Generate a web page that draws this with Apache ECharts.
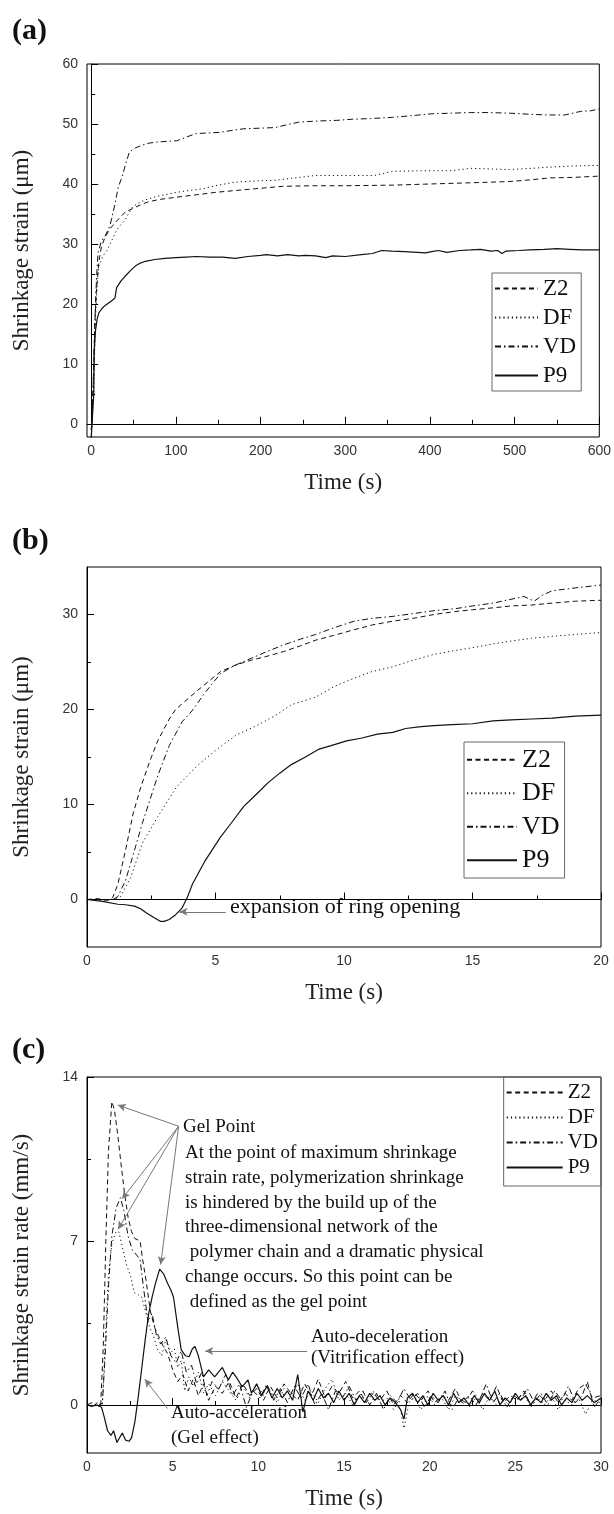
<!DOCTYPE html>
<html>
<head>
<meta charset="utf-8">
<script src="https://cdn.jsdelivr.net/npm/echarts@6/dist/echarts.min.js"></script>
<style>
  html, body { margin: 0; padding: 0; background: #fff; }
  #chart { width: 614px; height: 1514px; }
</style>
</head>
<body>
<div id="chart"></div>
<script>
var names = ['Z2', 'DF', 'VD', 'P9'];

// ---- panel (a): shrinkage strain, 0-600 s ----
var aTicksX = [0, 100, 200, 300, 400, 500, 600];
var aMinorX = [50, 150, 250, 350, 450, 550];
var aTicksY = [0, 10, 20, 30, 40, 50, 60];
var aMinorY = [5, 15, 25, 35, 45, 55];

var aZ2 = [[0,-1],[1,1],[2,5],[3,10],[4,16],[6,22],[9,27],[12,29.5],[16,31],[22,32.5],[30,33.8],[40,35.3],[49,35.9],[58,36.5],[67,37],[80,37.4],[101,37.8],[125,38.2],[147,38.6],[170,38.9],[194,39.2],[226,39.6],[260,39.7],[300,39.7],[356,39.8],[402,40.0],[450,40.2],[494,40.4],[520,40.7],[541,41.0],[570,41.1],[600,41.3]];
var aDF = [[0,-1],[1,1],[2,3],[3,5.4],[4,12],[5,17.5],[7,23],[9,26.3],[14,28],[19,29],[25,30.8],[30,32.3],[35,33.2],[40,34],[45,35.3],[49,36.2],[58,37],[67,37.5],[80,38],[101,38.6],[115,38.9],[132,39.2],[150,39.8],[170,40.3],[195,40.5],[217,40.6],[240,41.0],[264,41.4],[300,41.4],[334,41.4],[356,42.1],[390,42.2],[425,42.2],[448,42.6],[470,42.5],[494,42.4],[520,42.6],[541,42.8],[570,43.0],[600,43.1]];
var aVD = [[0,-2.2],[1,0],[2,5],[3,10],[4,15],[5,20],[6.5,25],[8,28.5],[12,30.5],[16,31.2],[22,33],[27,36],[32,39.5],[36,41],[40,43],[45,45.3],[52,46],[59,46.4],[68,46.8],[78,47],[90,47.1],[101,47.2],[112,47.8],[124,48.4],[138,48.5],[152,48.6],[165,48.9],[180,49.2],[200,49.3],[217,49.4],[232,49.9],[245,50.3],[268,50.5],[290,50.6],[309,50.8],[330,50.9],[356,51.1],[380,51.4],[402,51.7],[425,51.8],[448,51.9],[470,51.9],[494,51.8],[520,51.6],[541,51.5],[559,51.5],[578,52.1],[590,52.2],[600,52.5]];
var aP9 = [[0,-2.3],[2,-2.3],[3,5],[3.5,12],[5,15.5],[7,17.5],[9,18.5],[12,19.1],[16,19.7],[21,20.2],[25,20.6],[28,21],[30,22.7],[35,23.8],[40,24.6],[46,25.5],[52,26.3],[58,26.8],[64,27.1],[75,27.4],[87,27.6],[100,27.7],[112,27.8],[124,27.9],[140,27.8],[155,27.8],[170,27.6],[185,27.9],[200,28.1],[207,28.2],[220,28.0],[232,28.2],[245,28.0],[253,28.1],[265,28.0],[277,27.7],[285,28.0],[300,27.9],[319,28.2],[332,28.4],[343,28.9],[355,28.8],[370,28.7],[385,28.6],[395,28.5],[402,28.7],[410,28.9],[420,28.6],[435,28.9],[448,29.0],[460,29.1],[472,28.8],[480,28.9],[485,28.4],[490,28.8],[505,28.9],[518,29.0],[535,29.1],[550,29.2],[565,29.1],[580,29.0],[600,29.0]];

// ---- panel (b): shrinkage strain, 0-20 s ----
var bTicksX = [0, 5, 10, 15, 20];
var bMinorX = [2.5, 7.5, 12.5, 17.5];
var bTicksY = [0, 10, 20, 30];
var bMinorY = [5, 15, 25];

var bZ2 = [[0,0],[0.4,0.1],[0.8,-0.1],[1.0,0.2],[1.2,1.6],[1.5,5.2],[1.8,9.1],[2.1,11.9],[2.45,14.6],[2.75,16.7],[3.2,19],[3.45,20],[3.7,20.6],[4.3,22],[5.2,24],[5.8,24.7],[6.4,25.2],[7.0,25.6],[7.65,26.1],[8.3,26.7],[8.9,27.3],[9.6,27.8],[10.4,28.4],[11.1,28.9],[11.9,29.3],[12.7,29.6],[13.5,30.0],[14.3,30.3],[15,30.5],[15.8,30.7],[16.5,30.9],[17.3,31.0],[18.1,31.2],[19,31.4],[20,31.5]];
var bDF = [[0,0],[0.5,-0.1],[1.0,0],[1.3,0.3],[1.7,2.3],[2.15,5.9],[2.75,8.7],[3.5,11.9],[4.3,14.1],[5.05,15.8],[5.8,17.3],[6.6,18.3],[7.35,19.4],[7.95,20.5],[8.9,21.3],[9.6,22.4],[10.4,23.3],[11.1,24.0],[11.9,24.5],[12.7,25.2],[13.5,25.8],[14.3,26.2],[15,26.5],[15.8,26.9],[16.5,27.2],[17.3,27.5],[18.1,27.7],[19,27.9],[20,28.1]];
var bVD = [[0,0],[0.5,0],[1.0,0],[1.2,0.3],[1.5,2],[1.85,5.2],[2.15,8],[2.45,10.5],[2.75,13],[3.2,16.2],[3.7,18.7],[4.1,19.9],[4.6,21.8],[5.2,23.8],[5.8,24.7],[6.4,25.4],[7.0,26.1],[7.65,26.8],[8.3,27.4],[8.9,27.9],[9.6,28.6],[10.4,29.3],[11.1,29.6],[11.9,29.8],[12.7,30.1],[13.5,30.4],[14.3,30.6],[15,30.9],[15.8,31.2],[16.5,31.6],[17,31.9],[17.4,31.4],[17.7,32.0],[18.1,32.5],[19,32.8],[20,33.1]];
var bP9 = [[0,0],[0.6,-0.2],[1.2,-0.5],[1.5,-0.55],[1.85,-0.7],[2.1,-1.0],[2.3,-1.4],[2.6,-1.9],[2.85,-2.3],[3.0,-2.3],[3.2,-2.1],[3.45,-1.6],[3.7,-0.9],[3.9,0.2],[4.1,1.6],[4.6,4.1],[5.2,6.6],[5.6,8.0],[6.1,9.8],[6.6,11.1],[7.05,12.3],[7.5,13.3],[7.95,14.2],[8.5,15.0],[9.0,15.8],[9.5,16.2],[10.1,16.7],[10.7,17.0],[11.3,17.4],[11.9,17.6],[12.4,18.0],[13.0,18.2],[13.5,18.3],[14.2,18.4],[15,18.5],[15.8,18.8],[16.5,18.9],[17.3,19.0],[18.1,19.1],[19,19.3],[20,19.4]];

// ---- panel (c): shrinkage strain rate, 0-30 s ----
var cTicksX = [0, 5, 10, 15, 20, 25, 30];
var cMinorX = [2.5, 7.5, 12.5, 17.5, 22.5, 27.5];
var cTicksY = [0, 7, 14];
var cMinorY = [3.5, 10.5];

var cZ2 = [[0,0.05],[0.3,-0.1],[0.6,0.1],[0.8,0.0],[0.95,2.5],[1.1,7],[1.25,10.8],[1.45,12.95],[1.6,12.6],[1.8,11.5],[2.0,10.2],[2.2,9.0],[2.4,8.0],[2.6,7.4],[2.8,7.1],[3.1,7.0],[3.25,6.2],[3.45,5.3],[3.7,4.0],[3.95,3.3],[4.2,2.9],[4.45,2.5],[4.7,2.2],[5.0,1.5],[5.3,1.0],[5.6,1.3],[5.9,0.6],[6.2,1.1],[6.5,0.4],[6.8,0.9],[7.1,0.2],[7.5,0.8],[7.9,0.5],[8.3,1.0],[8.7,0.3],[9.1,0.9],[9.5,0.4],[9.9,0.7],[10.3,0.2],[10.7,0.8],[11.1,0.3],[11.5,0.9],[11.9,0.5],[12.3,0.2],[12.7,0.9],[13.1,0.4],[13.5,1.1],[13.9,0.3],[14.3,0.8],[14.7,0.5],[15.1,1.0],[15.5,0.3],[15.9,0.6],[16.3,0.1],[16.7,0.5],[17.1,0.2],[17.5,0.6],[17.9,0.0],[18.3,0.4],[18.7,0.1],[19.1,0.5],[19.5,0.2],[19.9,0.6],[20.3,0.1],[20.7,0.4],[21.1,0.2],[21.5,0.7],[21.9,0.1],[22.3,0.4],[22.7,0.0],[23.1,0.5],[23.5,0.2],[23.9,0.8],[24.3,0.1],[24.7,0.4],[25.1,0.2],[25.5,0.6],[25.9,0.0],[26.3,0.5],[26.7,0.2],[27.1,0.6],[27.5,0.1],[27.9,0.5],[28.3,0.2],[28.7,0.7],[29.1,0.9],[29.5,0.3],[30,0.4]];
var cDF = [[0,0.0],[0.3,-0.05],[0.6,0.05],[0.9,0.0],[1.05,2.5],[1.25,5.5],[1.45,6.9],[1.7,7.4],[1.85,7.4],[2.05,6.8],[2.3,6.0],[2.55,5.5],[2.75,4.8],[3.0,4.7],[3.2,4.6],[3.45,3.9],[3.67,3.3],[3.9,2.9],[4.1,2.4],[4.36,2.1],[4.6,2.8],[4.85,2.2],[5.1,2.4],[5.3,1.6],[5.5,1.9],[5.7,0.6],[5.95,1.2],[6.2,0.8],[6.5,1.4],[6.8,0.5],[7.1,0.9],[7.5,0.4],[7.9,1.0],[8.3,0.6],[8.7,0.2],[9.1,0.8],[9.5,0.3],[9.9,0.9],[10.3,0.4],[10.7,0.6],[11.1,0.1],[11.5,0.7],[11.9,0.4],[12.3,0.9],[12.7,0.2],[13.1,0.6],[13.5,0.1],[13.9,0.7],[14.3,1.1],[14.7,0.2],[15.1,0.5],[15.5,0.0],[15.9,0.4],[16.3,0.2],[16.7,0.6],[17.1,0.1],[17.5,0.3],[17.9,-0.2],[18.2,0.2],[18.5,-1.0],[18.8,0.1],[19.1,0.3],[19.5,-0.2],[19.9,0.4],[20.3,0.0],[20.7,0.3],[21.1,-0.2],[21.5,0.4],[21.9,0.1],[22.3,-0.1],[22.7,0.3],[23.1,-0.2],[23.5,0.4],[23.9,0.0],[24.3,0.3],[24.7,-0.1],[25.1,0.2],[25.5,0.5],[25.9,-0.1],[26.3,0.3],[26.7,0.0],[27.1,0.4],[27.5,-0.2],[27.9,0.2],[28.3,0.0],[28.7,0.3],[29.1,-0.4],[29.5,0.2],[30,0.1]];
var cVD = [[0,0.0],[0.3,0.1],[0.6,-0.1],[0.9,0.1],[1.05,2.0],[1.25,5.0],[1.45,7.2],[1.7,8.4],[1.95,8.85],[2.15,8.3],[2.4,7.2],[2.65,6.6],[2.9,6.4],[3.1,6.2],[3.3,5.0],[3.55,3.6],[3.8,3.9],[4.05,3.0],[4.3,2.6],[4.6,2.9],[4.9,2.1],[5.2,1.8],[5.5,2.3],[5.8,1.4],[6.1,1.7],[6.4,0.9],[6.7,1.4],[7.0,0.4],[7.3,1.0],[7.7,0.7],[8.1,1.3],[8.5,0.4],[8.9,0.9],[9.3,-0.1],[9.7,0.6],[10.1,0.3],[10.5,0.9],[10.9,0.2],[11.3,0.7],[11.7,0.1],[12.1,0.8],[12.5,0.3],[12.9,0.9],[13.3,0.0],[13.7,0.5],[14.1,-0.2],[14.5,0.6],[14.9,0.3],[15.3,0.8],[15.7,0.2],[16.1,0.6],[16.5,0.0],[16.9,0.5],[17.3,-0.2],[17.7,0.4],[18.1,0.1],[18.5,0.7],[18.9,0.2],[19.3,0.5],[19.7,-0.1],[20.1,0.4],[20.5,0.1],[20.9,0.6],[21.3,-0.2],[21.7,0.3],[22.1,0.1],[22.5,0.6],[22.9,0.2],[23.3,0.9],[23.7,0.1],[24.1,0.5],[24.5,-0.1],[24.9,0.4],[25.3,0.2],[25.7,0.7],[26.1,0.1],[26.5,0.5],[26.9,0.0],[27.3,0.6],[27.7,0.2],[28.1,0.8],[28.5,0.1],[28.9,0.4],[29.2,1.0],[29.6,-0.1],[30,0.3]];
var cP9 = [[0,0.0],[0.3,-0.05],[0.6,0.0],[0.85,-0.1],[1.0,-0.5],[1.2,-1.1],[1.4,-1.3],[1.55,-1.1],[1.75,-1.6],[1.9,-1.4],[2.06,-1.2],[2.25,-1.5],[2.45,-1.55],[2.6,-1.4],[2.8,-0.7],[3.0,0.4],[3.2,1.6],[3.4,2.8],[3.6,3.9],[3.8,4.6],[4.0,5.2],[4.24,5.8],[4.47,5.6],[4.7,5.2],[4.9,4.9],[5.05,4.6],[5.3,3.3],[5.5,2.35],[5.75,2.1],[5.96,2.06],[6.15,2.4],[6.3,2.5],[6.5,2.1],[6.8,1.2],[7.1,1.5],[7.45,1.2],[7.9,1.6],[8.25,1.07],[8.5,1.4],[8.7,1.2],[9.06,0.78],[9.4,1.07],[9.6,0.5],[9.9,0.9],[10.2,0.4],[10.5,0.8],[10.8,0.3],[11.1,0.7],[11.4,0.3],[11.7,0.6],[12.0,0.2],[12.3,1.3],[12.6,-0.3],[12.9,0.6],[13.2,0.2],[13.5,0.7],[13.8,0.3],[14.1,0.5],[14.4,0.1],[14.7,0.6],[15.0,0.2],[15.3,0.5],[15.6,0.0],[15.9,0.4],[16.2,0.1],[16.5,0.5],[16.8,0.2],[17.1,0.4],[17.4,0.0],[17.7,0.3],[18.0,0.1],[18.3,-0.2],[18.5,-0.6],[18.7,0.3],[19.0,0.5],[19.3,0.1],[19.6,0.4],[19.9,0.0],[20.2,0.5],[20.5,0.2],[20.8,0.4],[21.1,0.0],[21.4,0.5],[21.7,0.1],[22.0,0.3],[22.3,0.0],[22.6,0.4],[22.9,0.1],[23.2,0.5],[23.5,0.2],[23.8,0.6],[24.1,0.0],[24.4,0.3],[24.7,0.1],[25.0,0.5],[25.3,0.2],[25.6,0.4],[25.9,0.0],[26.2,0.3],[26.5,0.1],[26.8,0.5],[27.1,0.2],[27.4,0.4],[27.7,0.0],[28.0,0.3],[28.3,0.1],[28.6,0.5],[28.9,0.2],[29.2,0.4],[29.6,0.1],[30,0.3]];

// annotation arrows, [from, to] in data coords
var bArrows = [[[5.4, -1.3], [3.6, -1.3]]];
var cArrows = [
  [[5.35, 11.9], [1.8, 12.8]],
  [[5.35, 11.9], [2.05, 8.8]],
  [[5.35, 11.9], [1.82, 7.5]],
  [[5.35, 11.9], [4.3, 6.0]],
  [[12.85, 2.3], [6.9, 2.3]],
  [[4.7, -0.15], [3.38, 1.1]]
];

var serif = '"Liberation Serif", "Times New Roman", serif';
var sans = '"Liberation Sans", Arial, sans-serif';
var ink = '#111';

var lineTypes = {
  Z2: [5, 3.5],
  DF: [1.2, 3],
  VD: [6, 3, 1.5, 3],
  P9: 'solid'
};

var panels = [
  { top: 64, height: 373, xMin: -5, xMax: 600, yMin: -2.2, yMax: 60,
    tx: aTicksX, mx: aMinorX, ty: aTicksY, my: aMinorY,
    yName: 'Shrinkage strain (\u03bcm)', data: [aZ2, aDF, aVD, aP9], arrows: [] },
  { top: 567, height: 380, xMin: 0, xMax: 20, yMin: -5, yMax: 35,
    tx: bTicksX, mx: bMinorX, ty: bTicksY, my: bMinorY,
    yName: 'Shrinkage strain (\u03bcm)', data: [bZ2, bDF, bVD, bP9], arrows: bArrows },
  { top: 1077, height: 376, xMin: 0, xMax: 30, yMin: -2.05, yMax: 14,
    tx: cTicksX, mx: cMinorX, ty: cTicksY, my: cMinorY,
    yName: 'Shrinkage strain rate (mm/s)', data: [cZ2, cDF, cVD, cP9], arrows: cArrows }
];

var grids = [], xAxes = [], yAxes = [], series = [];

panels.forEach(function (p, i) {
  grids.push({ left: 87, top: p.top, width: 514, height: p.height,
    show: true, borderColor: '#000', borderWidth: 1, backgroundColor: 'transparent' });

  // main x axis: labels + major ticks
  xAxes.push({
    type: 'value', gridIndex: i, min: p.xMin, max: p.xMax, position: 'bottom',
    name: 'Time (s)', nameLocation: 'middle', nameGap: 34,
    nameTextStyle: { fontFamily: serif, fontSize: 23, color: '#222' },
    axisLine: { lineStyle: { color: '#000', width: 1 } },
    axisTick: { inside: true, length: 7, customValues: p.tx, lineStyle: { color: '#000' } },
    axisLabel: { customValues: p.tx, margin: 7, fontFamily: sans, fontSize: 14, color: '#333' },
    splitLine: { show: false }
  });
  // minor x ticks
  xAxes.push({
    type: 'value', gridIndex: i, min: p.xMin, max: p.xMax, position: 'bottom', offset: 0,
    axisLine: { show: false },
    axisTick: { inside: true, length: 4, customValues: p.mx, lineStyle: { color: '#000' } },
    axisLabel: { show: false }, splitLine: { show: false }
  });

  yAxes.push({
    type: 'value', gridIndex: i, min: p.yMin, max: p.yMax, position: 'left',
    name: p.yName, nameLocation: 'middle', nameGap: 54,
    nameTextStyle: { fontFamily: serif, fontSize: 23, color: '#222' },
    axisLine: { show: true, lineStyle: { color: '#000', width: 1 } },
    axisTick: { show: true, inside: true, length: 7, customValues: p.ty, lineStyle: { color: '#000' } },
    axisLabel: { customValues: p.ty, margin: 9, fontFamily: sans, fontSize: 14, color: '#333' },
    splitLine: { show: false }
  });
  yAxes.push({
    type: 'value', gridIndex: i, min: p.yMin, max: p.yMax, position: 'left', offset: 0,
    axisLine: { show: false },
    axisTick: { show: true, inside: true, length: 4, customValues: p.my, lineStyle: { color: '#000' } },
    axisLabel: { show: false }, splitLine: { show: false }
  });

  names.forEach(function (n, k) {
    var s = {
      name: n, type: 'line', xAxisIndex: i * 2, yAxisIndex: i * 2,
      data: p.data[k], symbol: 'none', showSymbol: false, animation: false,
      lineStyle: { color: ink, width: n === 'P9' ? 1.2 : 1, type: lineTypes[n] },
      itemStyle: { color: ink }
    };
    if (n === 'P9' && p.arrows.length) {
      s.markLine = {
        silent: true, animation: false,
        symbol: ['none', 'arrow'], symbolSize: [6, 8],
        label: { show: false },
        itemStyle: { color: '#222' },
        lineStyle: { color: '#777', width: 1, type: 'solid' },
        data: p.arrows.map(function (a) {
          return [{ coord: a[0] }, { coord: a[1] }];
        })
      };
    }
    series.push(s);
  });
});

function legendAt(pos, iw, fs, lh, pad) {
  return Object.assign({
    data: names, orient: 'vertical',
    itemWidth: iw, itemHeight: 12, itemGap: 0, selectedMode: false,
    padding: pad, borderColor: '#666', borderWidth: 1,
    itemStyle: { opacity: 0 },
    textStyle: { fontFamily: serif, fontSize: fs, lineHeight: lh, color: '#111' }
  }, pos);
}

function txt(x, y, s, size, extra) {
  return {
    type: 'text', x: x, y: y, silent: true,
    style: Object.assign({ text: s, font: size + 'px ' + serif, fill: '#111',
      verticalAlign: 'middle' }, extra || {})
  };
}

var gelNote = [
  'At the point of maximum shrinkage',
  'strain rate, polymerization shrinkage',
  'is hindered by the build up of the',
  'three-dimensional network of the',
  ' polymer chain and a dramatic physical',
  'change occurs. So this point can be',
  ' defined as the gel point'
];

var chart = echarts.init(document.getElementById('chart'));
chart.setOption({
  animation: false,
  backgroundColor: '#fff',
  grid: grids,
  xAxis: xAxes,
  yAxis: yAxes,
  legend: [
    legendAt({ left: 492, top: 273 }, 43, 23, 29, [1, 5, 1, 2]),
    legendAt({ left: 464, top: 742 }, 50, 26, 33.5, [1, 5, 1, 2]),
    legendAt({ right: 13, top: 1077 }, 56, 21, 25, [3, 3, 6, 2])
  ],
  graphic: [
    txt(12, 31, '(a)', 'bold 30'),
    txt(12, 541, '(b)', 'bold 30'),
    txt(12, 1050, '(c)', 'bold 30'),
    txt(230, 907, 'expansion of ring opening', 22),
    txt(183, 1127, 'Gel Point', 19),
    { type: 'text', x: 185, y: 1141, silent: true,
      style: { text: gelNote.join('\n'), font: '19px ' + serif, fill: '#111',
        lineHeight: 24.7, verticalAlign: 'top' } },
    txt(311, 1337, 'Auto-deceleration', 19),
    txt(311, 1358, '(Vitrification effect)', 19),
    txt(171, 1413, 'Auto-acceleration', 19),
    txt(171, 1438, '(Gel effect)', 19)
  ],
  series: series
});
</script>
</body>
</html>
